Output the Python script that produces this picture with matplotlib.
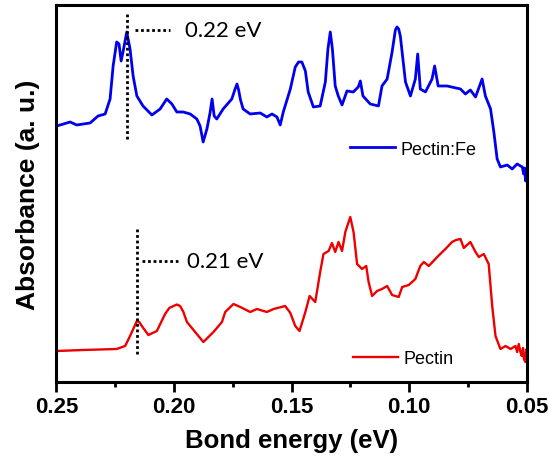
import numpy as np
import matplotlib.pyplot as plt

# Pectin:Fe (blue) - bond energy (eV) vs absorbance (a.u.)
fe_energy = [0.2499, 0.2442, 0.2414, 0.2357, 0.2323, 0.2293, 0.2272, 0.2259, 0.2244, 0.2234,
             0.2225, 0.2217, 0.2201, 0.2187, 0.2174, 0.2158, 0.2132, 0.2094, 0.2059, 0.2031,
             0.2009, 0.1988, 0.1961, 0.1931, 0.1903, 0.1889, 0.1876, 0.1860, 0.1846, 0.1838,
             0.1829, 0.1818, 0.1791, 0.1754, 0.1740, 0.1732, 0.1725, 0.1718, 0.1706, 0.1676,
             0.1633, 0.1605, 0.1583, 0.1562, 0.1548, 0.1535, 0.1505, 0.1484, 0.1470, 0.1456,
             0.1441, 0.1429, 0.1407, 0.1378, 0.1356, 0.1345, 0.1335, 0.1326, 0.1314, 0.1301,
             0.1285, 0.1264, 0.1237, 0.1216, 0.1207, 0.1196, 0.1165, 0.1130, 0.1115, 0.1093,
             0.1072, 0.1058, 0.1051, 0.1044, 0.1037, 0.1015, 0.0994, 0.0973, 0.0963, 0.0952,
             0.0930, 0.0902, 0.0891, 0.0876, 0.0838, 0.0781, 0.0760, 0.0739, 0.0717, 0.0689,
             0.0675, 0.0653, 0.0639, 0.0625, 0.0611, 0.0582, 0.0561, 0.0540, 0.0518, 0.0512,
             0.0508, 0.0504, 0.0501]
fe_abs = [256, 260, 257, 259, 266, 268, 283, 316, 340, 338,
          321, 330, 350, 333, 306, 286, 276, 267, 273, 283,
          278, 270, 270, 268, 263, 256, 240, 253, 270, 283,
          266, 263, 273, 283, 293, 298, 292, 283, 273, 268,
          269, 265, 268, 265, 257, 270, 293, 315, 320, 320,
          311, 290, 275, 276, 300, 333, 350, 333, 296, 286,
          277, 291, 290, 295, 301, 286, 278, 276, 296, 303,
          330, 352, 355, 353, 346, 300, 286, 303, 328, 293,
          290, 303, 316, 296, 296, 293, 288, 292, 285, 303,
          286, 273, 250, 223, 215, 217, 213, 218, 215, 208,
          214, 201, 212]

# Pectin (red)
pe_energy = [0.2499, 0.2387, 0.2244, 0.2208, 0.2187, 0.2158, 0.2148, 0.2137, 0.2109, 0.2073,
             0.2038, 0.2020, 0.2002, 0.1988, 0.1974, 0.1960, 0.1945, 0.1910, 0.1875, 0.1832,
             0.1796, 0.1782, 0.1747, 0.1718, 0.1676, 0.1647, 0.1605, 0.1576, 0.1527, 0.1505,
             0.1484, 0.1466, 0.1441, 0.1423, 0.1399, 0.1378, 0.1364, 0.1342, 0.1328, 0.1314,
             0.1300, 0.1285, 0.1271, 0.1250, 0.1236, 0.1221, 0.1200, 0.1182, 0.1172, 0.1157,
             0.1136, 0.1115, 0.1093, 0.1072, 0.1044, 0.1029, 0.1001, 0.0973, 0.0952, 0.0937,
             0.0916, 0.0880, 0.0845, 0.0817, 0.0800, 0.0781, 0.0767, 0.0739, 0.0717, 0.0703,
             0.0682, 0.0661, 0.0646, 0.0632, 0.0611, 0.0589, 0.0568, 0.0547, 0.0540, 0.0533,
             0.0526, 0.0520, 0.0515, 0.0511, 0.0505, 0.0502]
pe_abs = [31, 32, 33, 36, 46, 61, 60, 56, 47, 51,
          68, 74, 76, 77.5, 76, 70, 60, 50, 40, 50,
          60, 70, 78, 75, 70, 73, 70, 73, 76, 69,
          56, 51, 70, 86, 80, 110, 128, 131, 139, 130,
          140, 131, 150, 165, 150, 118, 113, 116, 100, 86,
          91, 93, 96, 87, 85, 95, 97, 103, 116, 120,
          116, 125, 133, 140, 142, 143, 134, 140, 130, 125,
          128, 118, 76, 46, 33, 36, 33, 36, 30, 38,
          30, 26, 34, 23, 20, 32]

fig = plt.figure(figsize=(5.48, 4.6), dpi=100)
ax = fig.add_axes([0.1031, 0.1674, 0.8577, 0.8196])

ax.plot(fe_energy, fe_abs, color='#0000ee', lw=2.0, solid_joinstyle='round', label='Pectin:Fe')
ax.plot(pe_energy, pe_abs, color='#ee0000', lw=1.7, solid_joinstyle='round', label='Pectin')

# peak markers
dot = (0, (1, 1))
ax.plot([0.2201, 0.2201], [243, 368], ls=dot, color='black', lw=2)
ax.plot([0.2166, 0.2017], [352, 352], ls=dot, color='black', lw=2)
ax.text(0.1953, 352, '0.22 eV', fontsize=16, family='Lato', va='center', ha='left')
ax.plot([0.2158, 0.2158], [28, 153], ls=dot, color='black', lw=2)
ax.plot([0.2136, 0.1982], [121, 121], ls=dot, color='black', lw=2)
ax.text(0.1944, 121, '0.21 eV', fontsize=16, family='Lato', va='center', ha='left')

ax.set_xlim(0.25, 0.05)
ax.set_ylim(0, 377)
ax.set_xticks([0.25, 0.20, 0.15, 0.10, 0.05])
ax.set_xticklabels(['0.25', '0.20', '0.15', '0.10', '0.05'])
ax.set_xticks([0.225, 0.175, 0.125, 0.075], minor=True)
ax.set_yticks([])
ax.tick_params(axis='x', which='major', direction='out', length=7, width=2, labelsize=16, pad=3)
ax.tick_params(axis='x', which='minor', direction='out', length=3.5, width=2)
for lab in ax.get_xticklabels():
    lab.set_fontweight('bold')
    lab.set_family('Liberation Sans')
for s in ax.spines.values():
    s.set_linewidth(2.2)

ax.set_xlabel('Bond energy (eV)', fontsize=18.5, fontweight='bold', family='Liberation Sans', labelpad=8)
ax.set_ylabel('Absorbance (a. u.)', fontsize=19, fontweight='bold', family='Liberation Sans', labelpad=12)

h = ax.get_lines()
leg1 = ax.legend([h[0]], ['Pectin:Fe'], loc='center left', bbox_to_anchor=(0.6245, 0.618),
                 frameon=False, borderpad=0, borderaxespad=0, handlelength=2.5, handletextpad=0.28,
                 prop={'family': 'Liberation Sans', 'size': 13})
ax.add_artist(leg1)
ax.legend([h[1]], ['Pectin'], loc='center left', bbox_to_anchor=(0.6309, 0.061),
          frameon=False, borderpad=0, borderaxespad=0, handlelength=2.5, handletextpad=0.28,
          prop={'family': 'Liberation Sans', 'size': 13})

fig.savefig('out.png', dpi=100)
